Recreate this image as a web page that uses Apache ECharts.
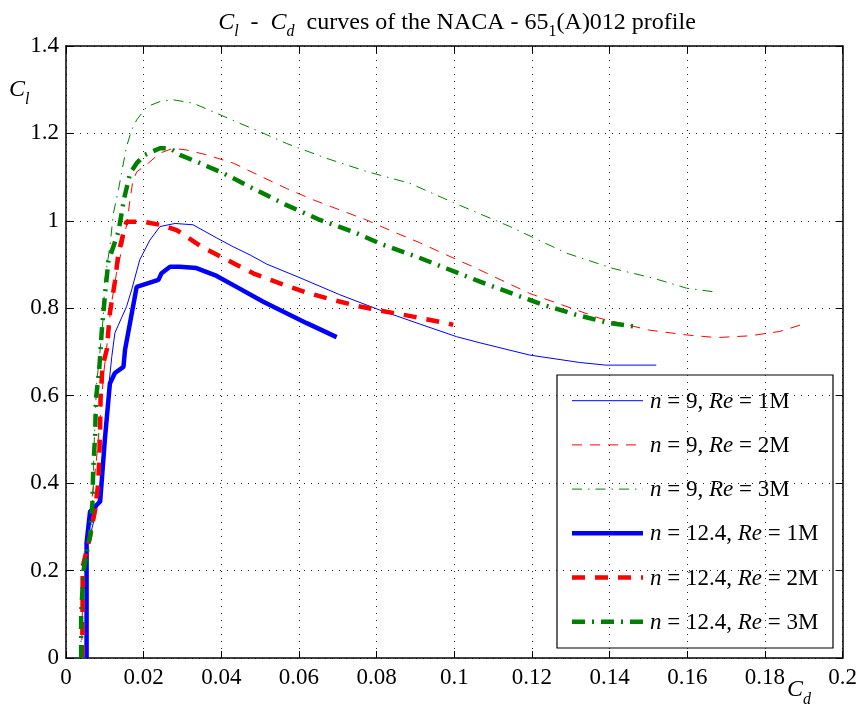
<!DOCTYPE html>
<html>
<head>
<meta charset="utf-8">
<script src="https://cdn.jsdelivr.net/npm/echarts@6/dist/echarts.min.js"></script>
<style>
  html, body { margin: 0; padding: 0; background: #fff; }
  #chart { width: 860px; height: 712px; }
</style>
</head>
<body>
<div id="chart"></div>
<script>
// Lift coefficient vs drag coefficient, NACA 65-1(A)012
const nValues = ['9', '9', '9', '12.4', '12.4', '12.4'];
const reValues = ['1M', '2M', '3M', '1M', '2M', '3M'];

// n = 9, Re = 1M
const cdN9Re1 = [0.0052, 0.0052, 0.0065, 0.0079, 0.0088, 0.0109, 0.0118, 0.0126, 0.0156, 0.0169, 0.0190, 0.0216, 0.0242, 0.0281, 0.0327, 0.0388, 0.0430, 0.0474, 0.0517, 0.0602, 0.0705, 0.0808, 0.0911, 0.1006, 0.1066, 0.1194, 0.1323, 0.1390, 0.1520];
const clN9Re1 = [0.000, 0.270, 0.290, 0.339, 0.392, 0.613, 0.690, 0.744, 0.804, 0.842, 0.911, 0.956, 0.987, 0.994, 0.991, 0.961, 0.941, 0.922, 0.901, 0.870, 0.831, 0.796, 0.764, 0.735, 0.721, 0.693, 0.676, 0.670, 0.670];

// n = 9, Re = 2M
const cdN9Re2 = [0.0040, 0.0043, 0.0050, 0.0065, 0.0078, 0.0088, 0.0097, 0.0106, 0.0115, 0.0130, 0.0145, 0.0158, 0.0165, 0.0172, 0.0182, 0.0212, 0.0242, 0.0276, 0.0311, 0.0362, 0.0431, 0.0499, 0.0568, 0.0637, 0.0705, 0.0774, 0.0843, 0.0911, 0.0980, 0.1048, 0.1194, 0.1375, 0.1503, 0.1598, 0.1675, 0.1761, 0.1838, 0.1907];
const clN9Re2 = [0.000, 0.150, 0.250, 0.350, 0.450, 0.550, 0.650, 0.720, 0.800, 0.880, 0.940, 1.000, 1.050, 1.090, 1.112, 1.132, 1.155, 1.166, 1.162, 1.151, 1.132, 1.103, 1.074, 1.048, 1.025, 1.002, 0.975, 0.950, 0.922, 0.895, 0.834, 0.777, 0.750, 0.739, 0.733, 0.737, 0.747, 0.766];

// n = 9, Re = 3M
const cdN9Re3 = [0.0038, 0.0040, 0.0045, 0.0053, 0.0066, 0.0070, 0.0072, 0.0075, 0.0079, 0.0088, 0.0096, 0.0100, 0.0113, 0.0122, 0.0135, 0.0143, 0.0156, 0.0169, 0.0182, 0.0208, 0.0242, 0.0276, 0.0328, 0.0388, 0.0448, 0.0499, 0.0568, 0.0671, 0.0774, 0.0885, 0.0997, 0.1143, 0.1289, 0.1409, 0.1512, 0.1598, 0.1666];
const clN9Re3 = [0.000, 0.100, 0.180, 0.231, 0.311, 0.391, 0.476, 0.549, 0.629, 0.705, 0.781, 0.865, 0.941, 1.017, 1.071, 1.109, 1.170, 1.208, 1.231, 1.261, 1.273, 1.277, 1.269, 1.246, 1.223, 1.204, 1.177, 1.143, 1.113, 1.086, 1.042, 0.987, 0.926, 0.891, 0.869, 0.846, 0.838];

// n = 12.4, Re = 1M
const cdN12Re1 = [0.0053, 0.0053, 0.0062, 0.0088, 0.0100, 0.0113, 0.0126, 0.0148, 0.0152, 0.0182, 0.0238, 0.0246, 0.0268, 0.0293, 0.0336, 0.0388, 0.0439, 0.0508, 0.0620, 0.0697];
const clN12Re1 = [0.000, 0.263, 0.335, 0.358, 0.499, 0.628, 0.652, 0.666, 0.705, 0.849, 0.865, 0.880, 0.895, 0.895, 0.892, 0.874, 0.849, 0.815, 0.766, 0.734];

// n = 12.4, Re = 2M
const cdN12Re2 = [0.0042, 0.0043, 0.0062, 0.0075, 0.0083, 0.0086, 0.0088, 0.0089, 0.0094, 0.0105, 0.0113, 0.0126, 0.0135, 0.0152, 0.0156, 0.0199, 0.0242, 0.0285, 0.0345, 0.0414, 0.0482, 0.0551, 0.0620, 0.0688, 0.0757, 0.0825, 0.0894, 0.0980, 0.0997];
const clN12Re2 = [0.000, 0.209, 0.278, 0.339, 0.400, 0.468, 0.533, 0.594, 0.666, 0.705, 0.789, 0.861, 0.926, 0.987, 0.998, 0.998, 0.991, 0.979, 0.943, 0.911, 0.880, 0.857, 0.836, 0.819, 0.804, 0.792, 0.781, 0.766, 0.762];

// n = 12.4, Re = 3M
const cdN12Re3 = [0.0039, 0.0039, 0.0045, 0.0062, 0.0068, 0.0070, 0.0075, 0.0077, 0.0086, 0.0092, 0.0100, 0.0109, 0.0135, 0.0150, 0.0165, 0.0182, 0.0203, 0.0242, 0.0268, 0.0293, 0.0345, 0.0405, 0.0482, 0.0568, 0.0654, 0.0740, 0.0817, 0.0903, 0.0980, 0.1066, 0.1151, 0.1229, 0.1314, 0.1400, 0.1475];
const clN12Re3 = [0.000, 0.100, 0.200, 0.280, 0.354, 0.430, 0.510, 0.590, 0.666, 0.747, 0.827, 0.907, 0.975, 1.052, 1.109, 1.132, 1.151, 1.166, 1.166, 1.151, 1.132, 1.109, 1.074, 1.036, 1.002, 0.975, 0.945, 0.918, 0.891, 0.861, 0.833, 0.808, 0.785, 0.766, 0.757];

const xTicks = { min: 0, max: 0.2, step: 0.02 };
const yTicks = { min: 0, max: 1.4, step: 0.2 };

const SERIF = '"Liberation Serif", "DejaVu Serif", serif';
const BLUE = '#0000ff', RED = '#ff0000', GREEN = '#008000';

function zip(xs, ys) { return xs.map((x, i) => [x, ys[i]]); }
function tickText(v) { return String(+v.toFixed(2)); }

const curves = [
  { cd: cdN9Re1, cl: clN9Re1, color: BLUE, width: 1, type: 'solid' },
  { cd: cdN9Re2, cl: clN9Re2, color: RED, width: 1, type: [10, 8] },
  { cd: cdN9Re3, cl: clN9Re3, color: GREEN, width: 1, type: [10, 6, 1.5, 6] },
  { cd: cdN12Re1, cl: clN12Re1, color: BLUE, width: 4.5, type: 'solid' },
  { cd: cdN12Re2, cl: clN12Re2, color: RED, width: 4.5, type: [13, 10] },
  { cd: cdN12Re3, cl: clN12Re3, color: GREEN, width: 4.5, type: [13, 7, 2, 7] }
];

const names = nValues.map((n, i) => 'n = ' + n + ', Re = ' + reValues[i]);

const series = curves.map((c, i) => ({
  name: names[i],
  type: 'line',
  data: zip(c.cd, c.cl),
  symbol: 'none',
  smooth: false,
  animation: false,
  lineStyle: { color: c.color, width: c.width, type: c.type, cap: 'butt' },
  itemStyle: { color: c.color },
  z: 2 + i
}));

const rich = {
  i: { fontFamily: SERIF, fontStyle: 'italic', fontWeight: 'normal', fontSize: 23, color: '#000' },
  r: { fontFamily: SERIF, fontWeight: 'normal', fontSize: 23, color: '#000' },
  ti: { fontFamily: SERIF, fontStyle: 'italic', fontWeight: 'normal', fontSize: 24, color: '#000' },
  tr: { fontFamily: SERIF, fontWeight: 'normal', fontSize: 24, color: '#000' },
  ts: { fontFamily: SERIF, fontStyle: 'italic', fontWeight: 'normal', fontSize: 16, color: '#000', verticalAlign: 'bottom', lineHeight: 35 },
  tsr: { fontFamily: SERIF, fontWeight: 'normal', fontSize: 16, color: '#000', verticalAlign: 'bottom', lineHeight: 35 },
  ai: { fontFamily: SERIF, fontStyle: 'italic', fontSize: 24, color: '#000' },
  as: { fontFamily: SERIF, fontStyle: 'italic', fontSize: 16, color: '#000', verticalAlign: 'bottom', lineHeight: 36 }
};

// Legend box drawn as graphics, using each curve's own stroke style
const legendBox = { x: 557, y: 375, w: 276, h: 273, rowTop: 400.7, rowGap: 44.2, lineX0: 572, lineX1: 643, textX: 650 };
const legendChildren = [{
  type: 'rect',
  shape: { x: legendBox.x, y: legendBox.y, width: legendBox.w, height: legendBox.h },
  style: { fill: '#fff', stroke: '#000', lineWidth: 1.2 }
}];
curves.forEach((c, i) => {
  const y = legendBox.rowTop + i * legendBox.rowGap;
  legendChildren.push({
    type: 'line',
    shape: { x1: legendBox.lineX0, y1: y, x2: legendBox.lineX1, y2: y },
    style: { stroke: c.color, lineWidth: c.width, lineDash: c.type === 'solid' ? null : c.type, lineCap: 'butt' }
  });
  legendChildren.push({
    type: 'text',
    x: legendBox.textX, y: y + 1,
    style: {
      text: '{i|n}{r| = ' + nValues[i] + ', }{i|Re}{r| = ' + reValues[i] + '}',
      rich: rich, verticalAlign: 'middle', align: 'left'
    }
  });
});

const chart = echarts.init(document.getElementById('chart'), null, { renderer: 'canvas' });

const axisCommon = {
  type: 'value',
  axisLine: { show: true, onZero: false, lineStyle: { color: '#000', width: 1.5 } },
  axisTick: { show: true, inside: true, length: 7, lineStyle: { color: '#000', width: 1 } },
  axisLabel: { color: '#000', fontFamily: SERIF, fontSize: 23, formatter: tickText }
};

chart.setOption({
  backgroundColor: '#fff',
  animation: false,
  title: {
    text: '{ti|C}{ts|l}{tr|  -  }{ti|C}{ts|d}{tr|  curves of the NACA - 65}{tsr|1}{tr|(A)012 profile}',
    left: 452,
    top: 0,
    textAlign: 'center',
    textStyle: { fontWeight: 'normal', rich: rich }
  },
  grid: { left: 66, right: 17, top: 46, bottom: 54, containLabel: false },
  xAxis: [
    Object.assign({}, axisCommon, {
      position: 'bottom',
      min: xTicks.min, max: xTicks.max, interval: xTicks.step,
      axisLabel: Object.assign({}, axisCommon.axisLabel, { margin: 8 }),
      splitLine: { show: true, lineStyle: { color: '#222', width: 1, type: [1, 6] } }
    }),
    Object.assign({}, axisCommon, {
      position: 'top',
      min: xTicks.min, max: xTicks.max, interval: xTicks.step,
      axisLabel: { show: false },
      splitLine: { show: false }
    })
  ],
  yAxis: [
    Object.assign({}, axisCommon, {
      position: 'left',
      min: yTicks.min, max: yTicks.max, interval: yTicks.step,
      axisLabel: Object.assign({}, axisCommon.axisLabel, { margin: 7 }),
      splitLine: { show: true, lineStyle: { color: '#222', width: 1, type: [1, 6] } }
    }),
    Object.assign({}, axisCommon, {
      position: 'right',
      min: yTicks.min, max: yTicks.max, interval: yTicks.step,
      axisLabel: { show: false },
      splitLine: { show: false }
    })
  ],
  graphic: [
    { type: 'text', left: 9, top: 78, style: { text: '{ai|C}{as|l}', rich: rich } },
    { type: 'text', left: 787, top: 678, style: { text: '{ai|C}{as|d}', rich: rich } },
    { type: 'group', z: 100, children: legendChildren }
  ],
  series: series
});
</script>
</body>
</html>
